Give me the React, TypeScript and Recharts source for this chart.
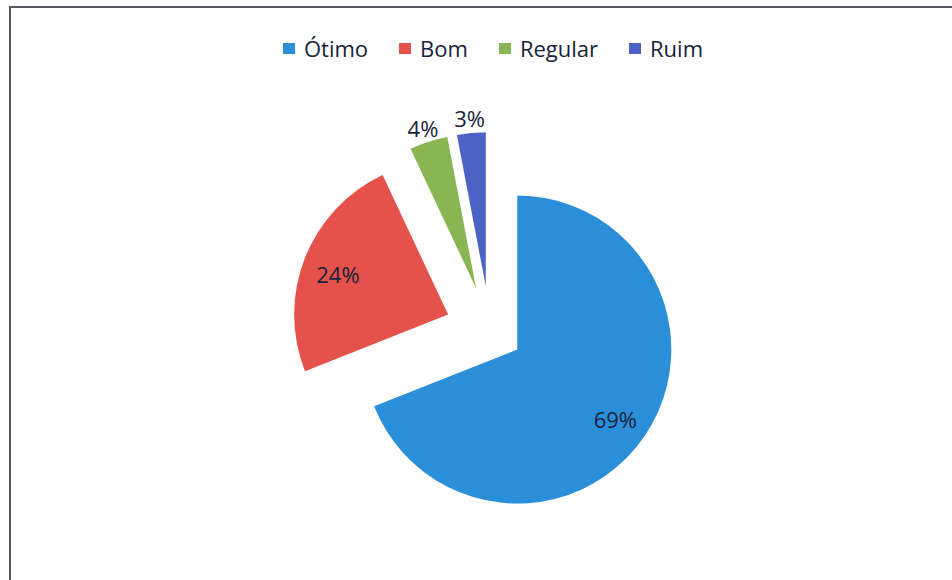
import { PieChart, Pie, Cell, Sector } from 'recharts'

const categories = ['Ótimo', 'Bom', 'Regular', 'Ruim']
const shares = [69, 24, 4, 3]
const sliceColors = ['#2a8fd8', '#e5524b', '#8ab553', '#4c62c4']

const data = categories.map((name, i) => ({ name, value: shares[i] }))

const RADIAN = Math.PI / 180
const FONT = '"Open Sans", sans-serif'
const TEXT = '#17223b'
// how far each slice is pulled out from the centre
const explode = [33, 45, 45, 45]

const offset = (mid: number, d: number) => ({
  dx: Math.cos(-mid * RADIAN) * d,
  dy: Math.sin(-mid * RADIAN) * d,
})

function ExplodedSlice(props: any) {
  const { cx, cy, midAngle, index } = props
  const { dx, dy } = offset(midAngle, explode[index] ?? 0)
  return <Sector {...props} cx={cx + dx} cy={cy + dy} />
}

function SliceLabel(props: any) {
  const { cx, cy, midAngle, outerRadius, percent, index, value } = props
  const { dx, dy } = offset(midAngle, explode[index] ?? 0)
  const r = percent > 0.1 ? outerRadius * 0.77 : outerRadius + 18
  const x = cx + dx + Math.cos(-midAngle * RADIAN) * r
  const y = cy + dy + Math.sin(-midAngle * RADIAN) * r + 3
  return (
    <text
      x={x}
      y={y}
      fill={TEXT}
      textAnchor="middle"
      dominantBaseline="central"
      style={{ fontSize: 22, fontFamily: FONT }}
    >
      {`${value}%`}
    </text>
  )
}

function TopLegend() {
  return (
    <div
      style={{
        position: 'absolute',
        left: 0,
        top: 36,
        width: 952,
        display: 'flex',
        justifyContent: 'center',
        gap: 31,
        paddingLeft: 34,
        boxSizing: 'border-box',
        height: 24,
        lineHeight: '24px',
        fontFamily: FONT,
        fontSize: 22,
        color: TEXT,
      }}
    >
      {categories.map((c, i) => (
        <div key={c} style={{ display: 'flex', alignItems: 'center' }}>
          <span
            style={{ width: 12, height: 11, background: sliceColors[i], marginRight: 9, display: 'inline-block' }}
          />
          <span>{c}</span>
        </div>
      ))}
    </div>
  )
}

export default function App() {
  return (
    <div
      style={{
        position: 'fixed',
        left: 0,
        top: 0,
        width: 952,
        height: 580,
        overflow: 'hidden',
        background: '#fff',
      }}
    >
      <div
        style={{
          position: 'absolute',
          left: 9,
          top: 6,
          width: 1000,
          height: 640,
          borderTop: '2px solid #555a60',
          borderLeft: '2px solid #555a60',
        }}
      />
      <div style={{ position: 'absolute', left: 0, top: 0 }}>
        <PieChart width={952} height={580} margin={{ top: 0, right: 0, bottom: 0, left: 0 }}>
          <Pie
            data={data}
            dataKey="value"
            nameKey="name"
            cx={490}
            cy={331}
            outerRadius={154}
            startAngle={90}
            endAngle={-270}
            stroke="none"
            shape={ExplodedSlice}
            label={SliceLabel}
            labelLine={false}
            isAnimationActive={false}
          >
            {data.map((d, i) => (
              <Cell key={d.name} fill={sliceColors[i]} />
            ))}
          </Pie>
        </PieChart>
      </div>
      <TopLegend />
    </div>
  )
}
